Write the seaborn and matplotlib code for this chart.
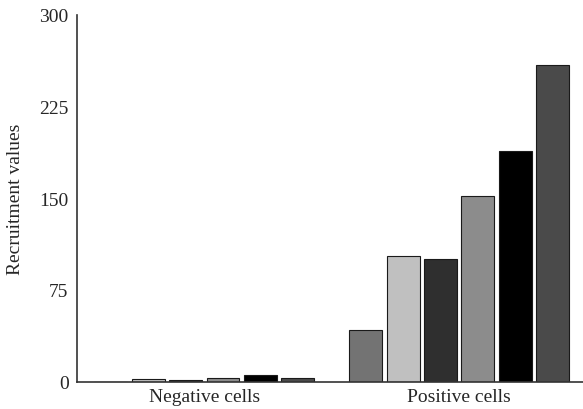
import pandas as pd
import matplotlib
matplotlib.use("Agg")
import matplotlib.pyplot as plt
import seaborn as sns

# ==========================
# Data
# ==========================
groups = ["Negative cells", "Positive cells"]
series = ["S1", "S2", "S3", "S4", "S5", "S6"]
negative_values = [0, 2, 1.5, 3, 5, 3]
positive_values = [42, 103, 100, 152, 189, 259]
bar_colors = ["#737373", "#c0c0c0", "#2f2f2f", "#8c8c8c", "#000000", "#4a4a4a"]
y_ticks = [0, 75, 150, 225, 300]

df = pd.DataFrame({
    "Group": [groups[0]] * len(series) + [groups[1]] * len(series),
    "Series": series + series,
    "Value": negative_values + positive_values,
})

# ==========================
# Plot
# ==========================
sns.set_style("white")
plt.rcParams["font.family"] = ["Liberation Serif", "DejaVu Serif"]

fig, ax = plt.subplots(figsize=(5.83, 4.10), dpi=100)
fig.subplots_adjust(left=0.132, right=1.0, top=0.961, bottom=0.067)

sns.barplot(data=df, x="Group", y="Value", hue="Series", order=groups,
            hue_order=series, palette=bar_colors, width=0.88, gap=0.12,
            edgecolor="#1a1a1a", linewidth=0.8, legend=False, ax=ax)

ax.set_xlim(-0.5, 1.486)
ax.set_ylim(0, 300)
ax.set_yticks(y_ticks)
ax.set_yticklabels([str(t) for t in y_ticks], fontsize=14)
ax.set_xlabel("")
ax.set_ylabel("Recruitment values", fontsize=14, labelpad=11)
ax.tick_params(axis="x", length=0, labelsize=14, pad=5)
ax.tick_params(axis="y", direction="in", length=4, width=1, color="#333333", pad=6)

sns.despine(ax=ax)
for side in ["left", "bottom"]:
    ax.spines[side].set_color("#333333")
    ax.spines[side].set_linewidth(1.2)

fig.savefig("out.png", dpi=100)
